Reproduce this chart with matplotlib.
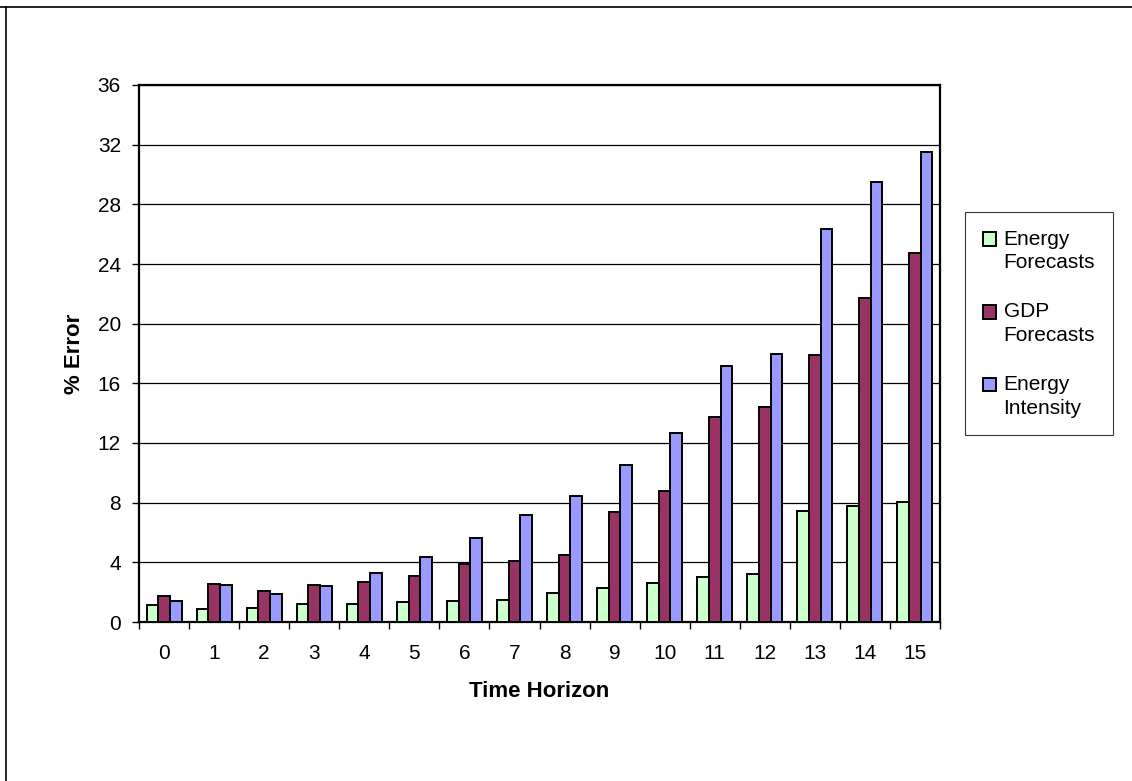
import matplotlib
matplotlib.use("Agg")
import matplotlib.pyplot as plt
import numpy as np
from matplotlib.lines import Line2D
from matplotlib.patches import Rectangle
from matplotlib.legend_handler import HandlerPatch

plt.rcParams['font.family'] = ['Liberation Sans', 'DejaVu Sans']

horizons = ['0', '1', '2', '3', '4', '5', '6', '7', '8', '9', '10', '11', '12', '13', '14', '15']
energy_forecasts = [1.12, 0.85, 0.92, 1.19, 1.21, 1.32, 1.41, 1.50, 1.92, 2.30, 2.61, 3.04, 3.20, 7.44, 7.78, 8.04]
gdp_forecasts = [1.74, 2.55, 2.06, 2.46, 2.66, 3.06, 3.87, 4.07, 4.49, 7.37, 8.78, 13.74, 14.41, 17.90, 21.74, 24.76]
energy_intensity = [1.43, 2.50, 1.88, 2.41, 3.26, 4.34, 5.63, 7.15, 8.45, 10.50, 12.69, 17.14, 17.95, 26.37, 29.48, 31.53]
series_names = ['Energy\nForecasts', 'GDP\nForecasts', 'Energy\nIntensity']
series_colors = ['#CCFFCC', '#993366', '#9999FF']
y_ticks = list(range(0, 37, 4))


class FirstLineHandler(HandlerPatch):
    """Square legend key aligned with the first text line (as in Excel)."""
    def create_artists(self, legend, orig_handle, xdescent, ydescent, width, height, fontsize, trans):
        shift = 0.58 * fontsize
        p = Rectangle(xy=(-xdescent, -ydescent + shift), width=width, height=height)
        self.update_prop(p, orig_handle, legend)
        p.set_transform(trans)
        return [p]


W, H = 1132, 781
fig = plt.figure(figsize=(W / 100, H / 100), dpi=100)
ax = fig.add_axes([139 / W, 1 - 622 / H, (940 - 139) / W, (622 - 85) / H])

x = np.arange(len(horizons))
bw = 0.233
proxies = []
for i, (vals, name, col) in enumerate(zip([energy_forecasts, gdp_forecasts, energy_intensity], series_names, series_colors)):
    ax.bar(x + (i - 1) * bw, vals, width=bw, color=col, edgecolor='black', linewidth=1.4, label=name, zorder=3)
    proxies.append(Rectangle((0, 0), 1, 1, facecolor=col, edgecolor='black', linewidth=1.4))

ax.set_xlim(-0.5, len(horizons) - 0.5)
ax.set_ylim(0, 36)
ax.set_yticks(y_ticks)
ax.set_yticklabels([str(t) for t in y_ticks], fontsize=15)
ax.yaxis.grid(True, color='black', linewidth=0.9, zorder=0)
ax.set_axisbelow(True)

ax.set_xticks(np.arange(-0.5, len(horizons), 1.0))
ax.set_xticklabels([])
ax.set_xticks(x, minor=True)
ax.set_xticklabels(horizons, minor=True, fontsize=15)
ax.tick_params(axis='x', which='major', direction='out', length=5, width=1)
ax.tick_params(axis='x', which='minor', length=0, pad=16)
ax.tick_params(axis='y', direction='out', length=5, width=1, pad=8)

for s in ax.spines.values():
    s.set_linewidth(1.6)
    s.set_color('black')

ax.set_xlabel('Time Horizon', fontsize=16, fontweight='bold')
ax.xaxis.set_label_coords(0.5, -0.11)
ax.set_ylabel('% Error', fontsize=16, fontweight='bold')
ax.yaxis.set_label_coords(-0.081, 0.5)
ax.yaxis.label.set_verticalalignment('center')

leg = fig.legend(proxies, series_names, loc='upper left', bbox_to_anchor=(965 / W, 1 - 212 / H), fontsize=15,
                 frameon=True, fancybox=False, shadow=False, handlelength=0.65, handleheight=0.65,
                 handletextpad=0.35, labelspacing=1.45, borderpad=0.85, borderaxespad=0,
                 handler_map={Rectangle: FirstLineHandler()})
for t in leg.get_texts():
    t.set_linespacing(1.3)
leg.get_frame().set_edgecolor('black')
leg.get_frame().set_linewidth(0.8)

fig.add_artist(Line2D([0, 1], [1 - 7 / H, 1 - 7 / H], transform=fig.transFigure, color='black', linewidth=1.2))
fig.add_artist(Line2D([6 / W, 6 / W], [0, 1 - 7 / H], transform=fig.transFigure, color='black', linewidth=1.2))

fig.savefig('out.png', dpi=100)
